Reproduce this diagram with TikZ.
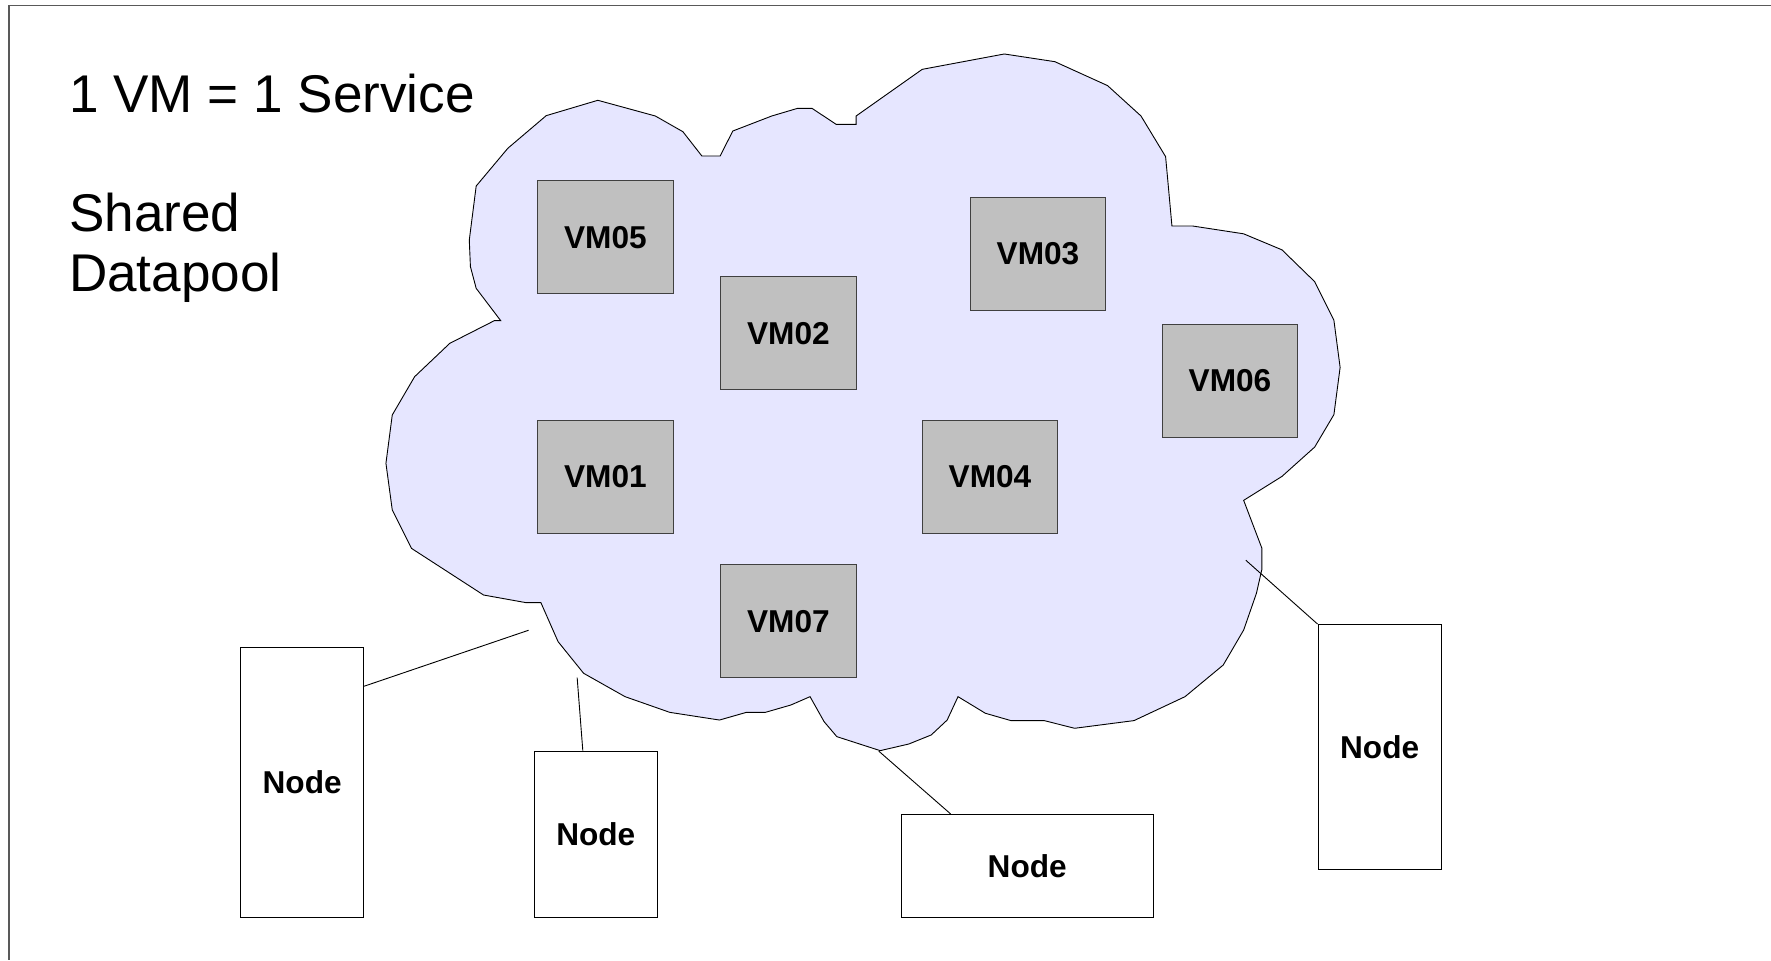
\documentclass[tikz,border=0pt]{standalone}
\usepackage{fontspec}
\setmainfont{Liberation Sans}
\begin{document}
\begin{tikzpicture}[x=1pt,y=-1pt,
  frameline/.style={draw=black!65,line width=1.4pt},
  cloudshape/.style={draw=black,fill=cloudfill,line width=0.8pt,line join=miter},
  vmbox/.style={draw=black!75,fill=vmgray,line width=0.9pt,minimum width=120pt,minimum height=100pt,inner sep=0pt,font=\fontsize{28}{33}\selectfont\bfseries},
  hostbox/.style={draw=black,fill=white,line width=0.9pt,inner sep=0pt,font=\fontsize{28}{33}\selectfont\bfseries},
  link/.style={draw=black,line width=0.8pt},
  bigtext/.style={inner sep=0pt,anchor=base west,font=\fontsize{47}{54}\selectfont}]
\definecolor{cloudfill}{RGB}{230,230,255}
\definecolor{vmgray}{RGB}{192,192,192}
\useasboundingbox (0,0) rectangle (1568,850);
\fill[white] (0,0) rectangle (1568,850);
\draw[frameline] (1568,5) -- (8,5) -- (8,850);
% cloud
\path[cloudshape] (421.6,164.7) -- (449.6,131.3) -- (483.6,102.4) -- (529.3,88.8) -- (580.2,102.7) -- (604.6,116.6) -- (621.4,138.1) -- (637.6,138.1) -- (648.8,116) -- (683.3,102.7) -- (706.2,95.9) -- (718.9,95.9) -- (740.3,110.1) -- (758,110.1) -- (758,102.7) -- (816.5,61.4) -- (889.2,47.8) -- (933.9,54.6) -- (980.6,75.8) -- (1010.2,102.7) -- (1032,138.7) -- (1037.6,200.1) -- (1055.9,200.1) -- (1101,207) -- (1135,221.2) -- (1164,249.4) -- (1181,283.6) -- (1186.5,325.3) -- (1181,367.1) -- (1164,395.8) -- (1135,421.8) -- (1101.1,443) -- (1117.2,485.3) -- (1117.2,504.2) -- (1112.4,525.3) -- (1101.1,557.8) -- (1083,588.8) -- (1049.2,616.8) -- (1004,638) -- (951.5,644.8) -- (924.4,638) -- (895,638) -- (872.4,631.5) -- (848.2,616.8) -- (838.6,637.5) -- (824.5,650.7) -- (804.7,658.7) -- (779.3,664.6) -- (740.9,652.2) -- (729.6,638.9) -- (717.2,616.8) -- (700.2,624.2) -- (677.6,630.7) -- (660.8,630.7) -- (637,637.5) -- (593,630.7) -- (553.4,616.8) -- (516.7,596.1) -- (494.1,568.1) -- (478.9,533.6) -- (465.9,533.6) -- (428.1,526.8) -- (364.3,485.5) -- (347.3,451.5) -- (341.7,410.2) -- (347.3,367.4) -- (367.1,333.5) -- (398.2,304) -- (437.7,283.9) -- (443.3,283.9) -- (421.6,255.3) -- (416.5,236.1) -- (415.5,212.5) -- cycle;
% texts
\node[bigtext] (title) at (61,100) {1 VM = 1 Service};
\node[bigtext] (shared) at (61,205) {Shared};
\node[bigtext] (datapool) at (61,258) {Datapool};
% VMs
\node[vmbox] (vm05) at (536,210) {VM05};
\node[vmbox] (vm02) at (698,295) {VM02};
\node[vmbox] (vm03) at (919,225) {VM03};
\node[vmbox] (vm06) at (1089,337) {VM06};
\node[vmbox] (vm01) at (536,422) {VM01};
\node[vmbox] (vm04) at (876.5,422) {VM04};
\node[vmbox] (vm07) at (698,550) {VM07};
% hosts
\node[hostbox,minimum width=109pt,minimum height=239pt] (n1) at (267.5,692.5) {Node};
\node[hostbox,minimum width=109pt,minimum height=147pt] (n2) at (527.5,738.5) {Node};
\node[hostbox,minimum width=223pt,minimum height=91pt] (n3) at (909.5,766.5) {Node};
\node[hostbox,minimum width=109pt,minimum height=217pt] (n4) at (1221.5,661.5) {Node};
% connector ends on the cloud
\coordinate (c1) at (468,558);
\coordinate (c2) at (511,600);
\coordinate (c3) at (778,665);
\coordinate (c4) at (1103,496);
\draw[link] (c1) -- ([yshift=-35pt]n1.north east);
\draw[link] (c2) -- ([xshift=-11.5pt]n2.north);
\draw[link] (c3) -- ([xshift=44pt]n3.north west);
\draw[link] (c4) -- (n4.north west);
\end{tikzpicture}
\end{document}
